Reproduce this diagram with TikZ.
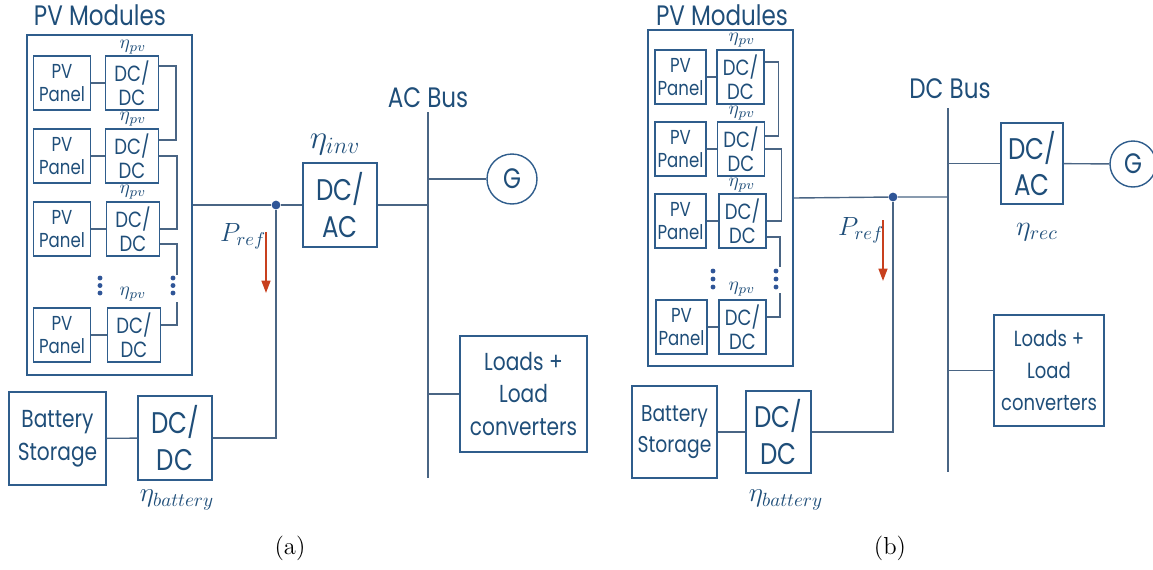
\RequirePackage{fix-cm}
\documentclass[tikz,border=0pt]{standalone}
\usepackage{fontspec}
\newfontfamily\gothic[FakeStretch=0.82]{Poppins}
\usetikzlibrary{
  arrows.meta,
  positioning,
  calc
}
\definecolor{boxblue}{HTML}{2F5D8C}
\definecolor{wiregray}{HTML}{4A6584}
\definecolor{textblue}{HTML}{1F4E79}
\definecolor{prefred}{HTML}{C8401E}
\definecolor{dotblue}{HTML}{2F5597}
\tikzset{
  unit/.style={
    rectangle, draw=boxblue, line width=0.8pt, text=textblue,
    align=center, inner sep=0pt
  },
  modulebox/.style={unit, line width=1pt},
  panelbox/.style={
    unit, minimum height=1.08cm,
    font=\gothic\fontsize{11.5}{13.2}\selectfont
  },
  smallconv/.style={
    unit, minimum height=1.08cm,
    font=\gothic\fontsize{12.5}{13.5}\selectfont
  },
  bigconv/.style={unit, font=\gothic\fontsize{17}{21}\selectfont},
  storebox/.style={unit, font=\gothic\fontsize{14}{18.5}\selectfont},
  genbox/.style={
    circle, draw=boxblue, line width=0.8pt, text=textblue,
    font=\gothic\fontsize{16}{16}\selectfont, inner sep=0pt
  },
  junction/.style={circle, fill=dotblue, inner sep=0pt, minimum size=5pt},
  wire/.style={draw=wiregray, line width=0.8pt},
  powerarrow/.style={-{Triangle[length=7pt,width=5pt]}, draw=prefred, line width=1.1pt},
  eta/.style={text=textblue, inner sep=0pt},
  etapv/.style={eta, font=\fontsize{11}{11}\selectfont},
  heading/.style={text=textblue, inner sep=0pt, font=\gothic\fontsize{16}{18}\selectfont},
  caption/.style={inner sep=0pt, font=\fontsize{14}{16}\selectfont},
}

\begin{document}
\begin{tikzpicture}[x=0.02cm, y=-0.02cm]
\useasboundingbox (0,0) rectangle (1153,569);

% ---------- (a) AC bus ----------
\node[heading] (titleA) at (100,15) {PV Modules};
\node[modulebox, minimum width=3.3cm, minimum height=6.8cm] (pvmodA) at (109.5,205) {};

\node[panelbox, minimum width=1.14cm] (panelA1) at (62,83) {PV\\Panel};
\node[smallconv, minimum width=1.06cm] (dcA1) at (132,83) {DC/\\DC};
\node[panelbox, minimum width=1.14cm] (panelA2) at (62,156) {PV\\Panel};
\node[smallconv, minimum width=1.06cm] (dcA2) at (132,156) {DC/\\DC};
\node[panelbox, minimum width=1.14cm] (panelA3) at (62,229) {PV\\Panel};
\node[smallconv, minimum width=1.06cm] (dcA3) at (133,229) {DC/\\DC};
\node[panelbox, minimum width=1.14cm] (panelA4) at (62,335) {PV\\Panel};
\node[smallconv, minimum width=1.06cm] (dcA4) at (134,335) {DC/\\DC};

\node[etapv] (etaA1) at (133,47) {$\eta_{pv}$};
\node[etapv] (etaA2) at (133,119) {$\eta_{pv}$};
\node[etapv] (etaA3) at (133,192) {$\eta_{pv}$};
\node[etapv] (etaA4) at (133,294) {$\eta_{pv}$};

\draw[wire] (panelA1) -- (dcA1);
\draw[wire] (panelA2) -- (dcA2);
\draw[wire] (panelA3) -- (dcA3);
\draw[wire] (panelA4) -- (dcA4);

% series string
\coordinate (gapA1) at (177,275);
\coordinate (gapA2) at (177,302);
\draw[wire] ([yshift=0.34cm]dcA1.east) -- ++(0.34cm,0) |- ([yshift=0.32cm]dcA2.east);
\draw[wire] (dcA2.east) -- ++(0.36cm,0) |- (dcA3.east);
\draw[wire] ([yshift=-0.3cm]dcA3.east) -| (gapA1);
\draw[wire] ([yshift=0.2cm]dcA4.east) -| (gapA2);
\foreach \y in {278,285.5,293} {
  \fill[dotblue] (100,\y) circle (1.4pt);
  \fill[dotblue] (173,\y) circle (1.4pt);
}

\node[junction] (jA) at (276,205) {};
\node[bigconv, minimum width=1.48cm, minimum height=1.68cm] (invA) at (340,205) {DC/\\AC};
\node[eta, font=\fontsize{19}{19}\selectfont] (etaInv) at (335,145) {$\eta_{inv}$};

\node[storebox, minimum width=1.94cm, minimum height=1.86cm] (batA) at (57.5,438.5) {Battery\\Storage};
\node[bigconv, minimum width=1.48cm, minimum height=1.68cm] (batdcA) at (175,438) {DC/\\DC};
\node[eta, font=\fontsize{15.5}{15.5}\selectfont] (etaBatA) at (177,500) {$\eta_{battery}$};

\node[eta, font=\fontsize{15}{15}\selectfont] (prefA) at (243,236) {$P_{ref}$};
\coordinate (prefA1) at (266,232);
\coordinate (prefA2) at (266,293);
\draw[powerarrow] (prefA1) -- (prefA2);

\node[heading] (busAlbl) at (428,98) {AC Bus};
\coordinate (busAtop) at (428,112);
\coordinate (busAbot) at (428,478);
\node[genbox, minimum size=1cm] (genA) at (512,179) {G};
\node[storebox, minimum width=2.54cm, minimum height=2.32cm] (loadA) at (523.5,394) {Loads +\\Load\\converters};

\draw[wire] (busAtop) -- (busAbot);
\draw[wire] (pvmodA.east) -- (jA) -- (invA.west);
\draw[wire] (batA) -- (batdcA);
\draw[wire] (batdcA.east) -| (jA);
\draw[wire] (invA.east) -- (invA.east -| busAtop);
\draw[wire] (busAtop |- genA.west) -- (genA.west);
\draw[wire] (busAtop |- loadA.west) -- (loadA.west);

\node[caption] (capA) at (290,548) {(a)};

% ---------- (b) DC bus ----------
\node[heading] (titleB) at (722,15) {PV Modules};
\node[modulebox, minimum width=2.9cm, minimum height=6.72cm] (pvmodB) at (720.5,198) {};

\node[panelbox, minimum width=1.02cm] (panelB1) at (680.5,77) {PV\\Panel};
\node[smallconv, minimum width=0.94cm] (dcB1) at (740.5,77) {DC/\\DC};
\node[panelbox, minimum width=1.02cm] (panelB2) at (680.5,149) {PV\\Panel};
\node[smallconv, minimum width=0.94cm] (dcB2) at (741,149) {DC/\\DC};
\node[panelbox, minimum width=1.02cm] (panelB3) at (680.5,221) {PV\\Panel};
\node[smallconv, minimum width=0.94cm] (dcB3) at (742.5,221) {DC/\\DC};
\node[panelbox, minimum width=1.02cm] (panelB4) at (681.5,327) {PV\\Panel};
\node[smallconv, minimum width=0.94cm] (dcB4) at (742.5,327) {DC/\\DC};

\node[etapv] (etaB1) at (742,40) {$\eta_{pv}$};
\node[etapv] (etaB2) at (742,113) {$\eta_{pv}$};
\node[etapv] (etaB3) at (742,185) {$\eta_{pv}$};
\node[etapv] (etaB4) at (742,289) {$\eta_{pv}$};

\draw[wire] (panelB1) -- (dcB1);
\draw[wire] (panelB2) -- (dcB2);
\draw[wire] (panelB3) -- (dcB3);
\draw[wire] (panelB4) -- (dcB4);

% series string
\coordinate (gapB1) at (780,267);
\coordinate (gapB2) at (780,293);
\draw[wire] ([yshift=0.3cm]dcB1.east) -- ++(0.28cm,0) |- ([yshift=0.26cm]dcB2.east);
\draw[wire] (dcB2.east) -- ++(0.32cm,0) |- (dcB3.east);
\draw[wire] ([yshift=-0.32cm]dcB3.east) -| (gapB1);
\draw[wire] ([yshift=0.2cm]dcB4.east) -| (gapB2);
\foreach \y in {271,279,287} {
  \fill[dotblue] (713,\y) circle (1.4pt);
  \fill[dotblue] (776,\y) circle (1.4pt);
}

\node[junction] (jB) at (893,197) {};

\node[storebox, minimum width=1.7cm, minimum height=1.84cm, font=\gothic\fontsize{13}{18}\selectfont] (batB) at (674.5,432) {Battery\\Storage};
\node[bigconv, minimum width=1.3cm, minimum height=1.64cm] (batdcB) at (778.5,432) {DC/\\DC};
\node[eta, font=\fontsize{15.5}{15.5}\selectfont] (etaBatB) at (786,500) {$\eta_{battery}$};

\node[eta, font=\fontsize{15}{15}\selectfont] (prefB) at (861,230) {$P_{ref}$};
\coordinate (prefB1) at (883,220);
\coordinate (prefB2) at (883,281);
\draw[powerarrow] (prefB1) -- (prefB2);

\node[heading] (busBlbl) at (950,89) {DC Bus};
\coordinate (busBtop) at (948,108);
\coordinate (busBbot) at (948,472);
\node[bigconv, minimum width=1.24cm, minimum height=1.62cm] (recB) at (1032,163.5) {DC/\\AC};
\node[eta, font=\fontsize{16}{16}\selectfont] (etaRec) at (1037,232) {$\eta_{rec}$};
\node[genbox, minimum size=0.92cm] (genB) at (1133,164) {G};
\node[storebox, minimum width=2.2cm, minimum height=2.22cm, font=\gothic\fontsize{12.5}{18}\selectfont] (loadB) at (1049,370.5) {Loads +\\Load\\converters};

\draw[wire] (busBtop) -- (busBbot);
\draw[wire] (pvmodB.east) -- (jB) -- (jB -| busBtop);
\draw[wire] (batB) -- (batdcB);
\draw[wire] (batdcB.east) -| (jB);
\draw[wire] (busBtop |- recB.west) -- (recB.west);
\draw[wire] (recB) -- (genB);
\draw[wire] (busBtop |- loadB.west) -- (loadB.west);

\node[caption] (capB) at (890,548) {(b)};

\end{tikzpicture}
\end{document}
